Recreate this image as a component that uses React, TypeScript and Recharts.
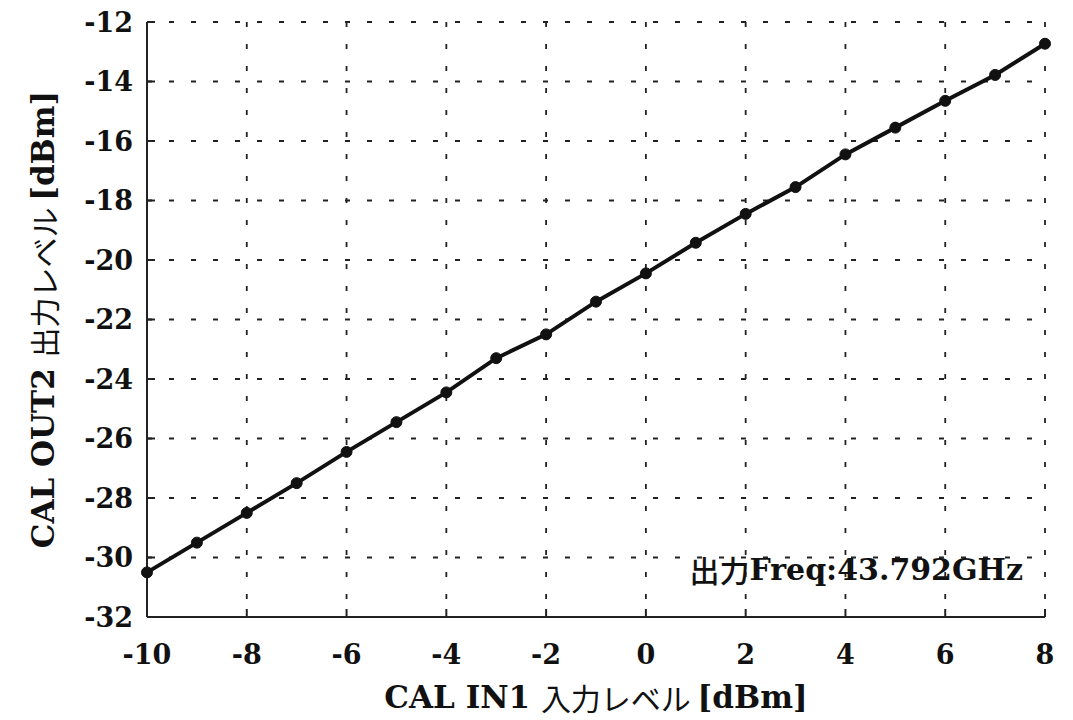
import React from "react";
import {
  LineChart,
  Line,
  XAxis,
  YAxis,
  CartesianGrid,
  ReferenceDot,
} from "recharts";

// CAL IN1 入力レベル [dBm]
const inputLevels = [-10, -9, -8, -7, -6, -5, -4, -3, -2, -1, 0, 1, 2, 3, 4, 5, 6, 7, 8];
// CAL OUT2 出力レベル [dBm]
const outputLevels = [
  -30.5, -29.5, -28.5, -27.5, -26.45, -25.45, -24.45, -23.3, -22.5, -21.4,
  -20.45, -19.42, -18.45, -17.55, -16.45, -15.55, -14.65, -13.78, -12.73,
];
const xTicks = [-10, -8, -6, -4, -2, 0, 2, 4, 6, 8];
const yTicks = [-32, -30, -28, -26, -24, -22, -20, -18, -16, -14, -12];
const noteText = { jp: "出力", en: "Freq:43.792GHz" };
const notePos = { x: 8, y: -30.4 };

const data = inputLevels.map((x, i) => ({ x, y: outputLevels[i] }));

const SERIF = "'DejaVu Serif', 'Liberation Serif', serif";
const JP = "'Noto Sans CJK JP', sans-serif";
const tickStyle = { fontFamily: SERIF, fontWeight: 700, fontSize: 27, fill: "#111" };

function NoteLabel(props: any) {
  const { viewBox } = props;
  if (!viewBox) return null;
  return (
    <text
      x={viewBox.x - 22}
      y={viewBox.y}
      textAnchor="end"
      dominantBaseline="central"
      fill="#111"
    >
      <tspan fontFamily={JP} fontWeight={500} fontSize={30}>{noteText.jp}</tspan>
      <tspan fontFamily={SERIF} fontWeight={700} fontSize={30}>{noteText.en}</tspan>
    </text>
  );
}

function XTitle(props: any) {
  const { viewBox } = props;
  const cx = viewBox.x + viewBox.width / 2;
  return (
    <text x={cx} y={viewBox.y + 80} textAnchor="middle" dominantBaseline="central" fill="#111">
      <tspan fontFamily={SERIF} fontWeight={700} fontSize={31}>CAL IN1 </tspan>
      <tspan fontFamily={JP} fontSize={30}>入力レベル </tspan>
      <tspan fontFamily={SERIF} fontWeight={700} fontSize={31}>[dBm]</tspan>
    </text>
  );
}

function YTitle(props: any) {
  const { viewBox } = props;
  const cy = viewBox.y + viewBox.height / 2;
  const cx = 43;
  return (
    <text
      x={cx}
      y={cy}
      textAnchor="middle"
      dominantBaseline="central"
      transform={`rotate(-90, ${cx}, ${cy})`}
      fill="#111"
    >
      <tspan fontFamily={SERIF} fontWeight={700} fontSize={31}>CAL OUT2 </tspan>
      <tspan fontFamily={JP} fontSize={30}>出力レベル </tspan>
      <tspan fontFamily={SERIF} fontWeight={700} fontSize={31}>[dBm]</tspan>
    </text>
  );
}

export default function App() {
  return (
    <div style={{ position: "absolute", left: 0, top: 0, background: "#fff" }}>
      <LineChart
        width={1073}
        height={720}
        data={data}
        margin={{ top: 22, right: 28, left: 0, bottom: 0 }}
      >
        <CartesianGrid
          stroke="#222"
          strokeWidth={1.8}
          strokeDasharray="5 17"
          horizontalValues={yTicks}
          verticalValues={xTicks}
        />
        <XAxis
          dataKey="x"
          type="number"
          domain={[-10, 8]}
          ticks={xTicks}
          height={103}
          tickSize={-8}
          tickMargin={36}
          tick={tickStyle}
          axisLine={{ stroke: "#222", strokeWidth: 2 }}
          tickLine={{ stroke: "#222", strokeWidth: 2 }}
          label={<XTitle />}
        />
        <XAxis
          xAxisId="top"
          orientation="top"
          dataKey="x"
          type="number"
          domain={[-10, 8]}
          ticks={xTicks}
          height={0}
          tickSize={-8}
          tickFormatter={() => ""}
          axisLine={{ stroke: "#222", strokeWidth: 2 }}
          tickLine={{ stroke: "#222", strokeWidth: 2 }}
        />
        <YAxis
          type="number"
          domain={[-32, -12]}
          ticks={yTicks}
          width={147}
          tickSize={-8}
          tickMargin={22}
          tick={tickStyle}
          axisLine={{ stroke: "#222", strokeWidth: 2 }}
          tickLine={{ stroke: "#222", strokeWidth: 2 }}
          label={<YTitle />}
        />
        <YAxis
          yAxisId="right"
          orientation="right"
          type="number"
          domain={[-32, -12]}
          ticks={yTicks}
          width={0}
          tickSize={-8}
          tickFormatter={() => ""}
          axisLine={{ stroke: "#222", strokeWidth: 2 }}
          tickLine={{ stroke: "#222", strokeWidth: 2 }}
        />
        <Line
          dataKey="y"
          type="linear"
          stroke="#111"
          strokeWidth={4}
          dot={{ r: 5.5, fill: "#111", stroke: "#111", strokeWidth: 1 }}
          isAnimationActive={false}
        />
        <ReferenceDot
          x={notePos.x}
          y={notePos.y}
          r={0}
          stroke="none"
          fill="none"
          label={<NoteLabel />}
        />
      </LineChart>
    </div>
  );
}
